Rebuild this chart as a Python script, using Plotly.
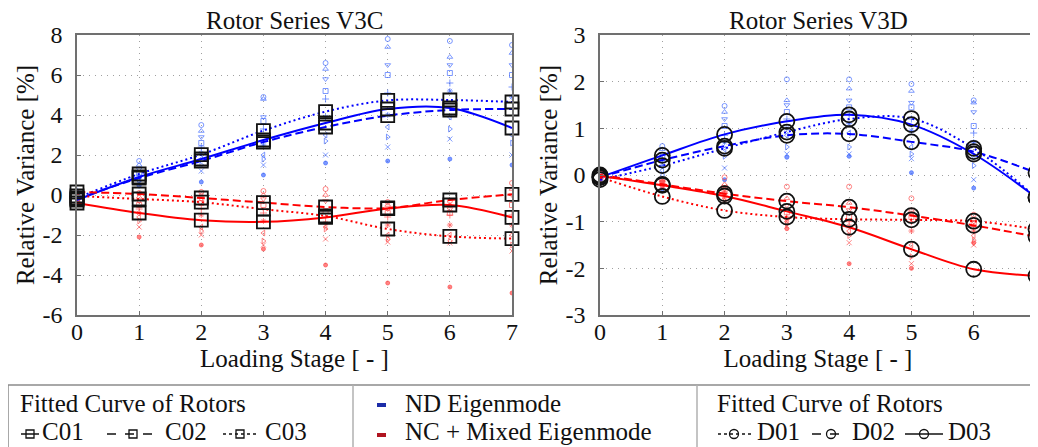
import plotly.graph_objects as go

# the page body adds an 8px margin; screen coordinates below are converted
OFF = 8
W, H = 1038 - OFF, 447 - OFF
ML, MR, MT, MB = 77 - OFF, 2, 35 - OFF, 447 - 315
FONT = "'Liberation Serif', 'Times New Roman', 'DejaVu Serif', serif"

STAGES = [0, 1, 2, 3, 4, 5, 6, 7]
X_TICKS = ["0", "1", "2", "3", "4", "5", "6", "7"]
Y_TICKS_C = [-6, -4, -2, 0, 2, 4, 6, 8]
Y_TEXT_C = ["-6", "-4", "-2", "0", "2", "4", "6", "8"]
Y_TICKS_D = [-3, -2, -1, 0, 1, 2, 3]
Y_TEXT_D = ["-3", "-2", "-1", "0", "1", "2", "3"]

# ---- fitted curves, rotor series V3C ----
C01_ND = [-0.25, 0.90, 1.80, 2.75, 3.60, 4.30, 4.35, 3.35]
C02_ND = [-0.20, 0.85, 1.70, 2.65, 3.40, 3.97, 4.25, 4.30]
C03_ND = [-0.15, 1.05, 2.02, 3.22, 4.17, 4.73, 4.75, 4.65]
C01_NC = [-0.40, -0.90, -1.26, -1.34, -1.12, -0.68, -0.50, -1.12]
C02_NC = [0.15, 0.05, -0.15, -0.38, -0.60, -0.65, -0.25, 0.03]
C03_NC = [-0.05, -0.20, -0.36, -0.71, -1.05, -1.70, -2.07, -2.18]

# ---- fitted curves, rotor series V3D ----
D01_ND = [-0.10, 0.20, 0.57, 0.92, 1.20, 1.21, 0.57, -0.48]
D02_ND = [-0.05, 0.32, 0.62, 0.85, 0.88, 0.71, 0.50, 0.05]
D03_ND = [-0.05, 0.42, 0.87, 1.15, 1.29, 1.08, 0.45, -0.48]
D01_NC = [-0.05, -0.46, -0.76, -0.90, -0.95, -0.96, -0.99, -1.16]
D02_NC = [0.00, -0.20, -0.40, -0.56, -0.69, -0.87, -1.08, -1.32]
D03_NC = [-0.02, -0.22, -0.45, -0.78, -1.12, -1.59, -2.02, -2.16]

# ---- single-mode measurements (one list per loading stage) ----
C_ND_PTS = [
    [0.10, -0.10, 0.00, -0.20, 0.20, -0.30, 0.05, -0.15, 0.15, -0.05],
    [1.70, 1.50, 1.30, 1.10, 1.00, 0.90, 0.80, 0.70, 0.60, 0.45],
    [3.50, 3.20, 2.90, 2.60, 2.40, 2.10, 1.80, 1.50, 1.20, 0.65],
    [4.90, 4.80, 3.90, 3.70, 3.30, 2.50, 2.00, 1.80, 1.50, 1.00],
    [6.60, 6.30, 5.80, 5.20, 4.80, 3.90, 3.00, 2.70, 2.00, 1.60],
    [7.80, 7.40, 6.50, 6.00, 5.10, 4.00, 3.40, 2.90, 2.40, 1.70],
    [7.70, 6.90, 6.50, 6.10, 5.60, 5.20, 3.90, 3.30, 2.80, 1.80],
    [7.50, 7.10, 6.50, 6.00, 5.40, 4.90, 3.00, 2.60, 2.00, 1.50],
]
C_NC_PTS = [
    [0.10, 0.00, -0.10, -0.20, -0.30, -0.40, 0.05, -0.15, -0.25, -0.05],
    [0.10, -0.10, -0.30, -0.50, -0.70, -0.90, -1.10, -1.30, -1.60, -2.10],
    [0.15, 0.00, -0.20, -0.40, -0.70, -1.00, -1.60, -1.80, -2.00, -2.50],
    [0.20, 0.00, -0.20, -0.50, -0.90, -1.30, -1.90, -2.30, -2.50, -2.70],
    [0.30, 0.00, -0.30, -0.80, -1.10, -1.40, -1.60, -1.70, -2.20, -3.50],
    [-0.35, -0.50, -0.70, -0.90, -1.10, -1.50, -2.00, -2.20, -2.35, -4.40],
    [-0.30, -0.50, -0.70, -0.90, -1.00, -1.50, -2.00, -2.30, -2.40, -4.60],
    [0.60, 0.30, 0.00, -0.50, -1.00, -1.50, -2.00, -2.50, -2.80, -4.90],
]
D_ND_PTS = [
    [0.00, -0.05, -0.10, 0.02, -0.08, -0.12, 0.05, -0.03, -0.06, -0.10],
    [0.62, 0.55, 0.45, 0.38, 0.30, 0.20, 0.10, 0.00, -0.15, -0.30],
    [1.48, 1.35, 1.20, 1.05, 0.85, 0.70, 0.55, 0.40, 0.15, -0.10],
    [2.05, 1.60, 1.50, 1.35, 1.20, 1.00, 0.85, 0.60, 0.45, 0.38],
    [2.05, 1.85, 1.60, 1.45, 1.30, 1.10, 0.90, 0.60, 0.45, 0.40],
    [1.95, 1.80, 1.55, 1.45, 1.20, 0.95, 0.60, 0.45, 0.35, 0.05],
    [1.60, 1.55, 1.35, 1.05, 0.90, 0.70, 0.40, 0.20, -0.10, -0.28],
    [1.05, 0.80, 0.65, 0.40, 0.20, -0.10, -0.30, -0.45, -0.60, -0.75],
]
D_NC_PTS = [
    [0.00, -0.02, -0.05, 0.02, -0.08, -0.10, 0.04, -0.04, -0.06, -0.03],
    [-0.10, -0.12, -0.15, -0.17, -0.20, -0.22, -0.24, -0.25, -0.18, -0.14],
    [-0.05, -0.20, -0.30, -0.35, -0.40, -0.45, -0.50, -0.55, -0.25, -0.38],
    [-0.25, -0.50, -0.65, -0.80, -0.90, -0.95, -1.00, -1.05, -1.10, -1.15],
    [-0.25, -0.60, -0.75, -0.90, -1.00, -1.10, -1.20, -1.30, -1.45, -1.90],
    [-0.50, -0.75, -0.85, -0.90, -1.00, -1.20, -1.50, -1.75, -1.90, -2.00],
    [-0.85, -0.95, -1.00, -1.05, -1.10, -1.20, -1.30, -1.40, -1.50, -1.45],
    [-0.85, -1.00, -1.10, -1.20, -1.30, -1.50, -1.80, -2.20, -2.40, -2.85],
]

SYMBOLS = ["circle-open", "triangle-up-open", "triangle-down-open", "square-open",
           "cross-thin-open", "asterisk-open", "triangle-left-open",
           "triangle-right-open", "x-thin-open", "circle"]

BLUE, RED = "#0000ff", "#ff0000"
BLUE_PT, RED_PT = "rgba(70,110,255,0.7)", "rgba(255,80,80,0.7)"

fig = go.Figure()


def add_points(pts, color, xa, ya):
    for j, sym in enumerate(SYMBOLS):
        fig.add_trace(go.Scatter(
            x=STAGES, y=[stage[j] for stage in pts], mode="markers",
            marker=dict(symbol=sym, size=5 if j < 9 else 4, color=color,
                        line=dict(color=color, width=1)),
            xaxis=xa, yaxis=ya, showlegend=False, hoverinfo="skip"))


def add_fit(vals, color, dash, xa, ya):
    fig.add_trace(go.Scatter(
        x=STAGES, y=vals, mode="lines",
        line=dict(color=color, width=2, dash=dash, shape="spline", smoothing=1.0),
        xaxis=xa, yaxis=ya, showlegend=False, hoverinfo="skip"))


def add_marks(vals, sym, size, xa, ya):
    fig.add_trace(go.Scatter(
        x=STAGES, y=vals, mode="markers", cliponaxis=False,
        marker=dict(symbol=sym, size=size, color="rgba(255,255,255,0)",
                    line=dict(color="#111111", width=1.8)),
        xaxis=xa, yaxis=ya, showlegend=False, hoverinfo="skip"))


add_points(C_ND_PTS, BLUE_PT, "x", "y")
add_points(C_NC_PTS, RED_PT, "x", "y")
add_points(D_ND_PTS, BLUE_PT, "x2", "y2")
add_points(D_NC_PTS, RED_PT, "x2", "y2")

DASH, DOT = "8px,4px", "2px,3px"
for vals, col, dash in [(C01_ND, BLUE, "solid"), (C02_ND, BLUE, DASH), (C03_ND, BLUE, DOT),
                        (C01_NC, RED, "solid"), (C02_NC, RED, DASH), (C03_NC, RED, DOT)]:
    add_fit(vals, col, dash, "x", "y")
for vals, col, dash in [(D01_ND, BLUE, DOT), (D02_ND, BLUE, DASH), (D03_ND, BLUE, "solid"),
                        (D01_NC, RED, DOT), (D02_NC, RED, DASH), (D03_NC, RED, "solid")]:
    add_fit(vals, col, dash, "x2", "y2")
for vals in [C01_ND, C02_ND, C03_ND, C01_NC, C02_NC, C03_NC]:
    add_marks(vals, "square", 13, "x", "y")
for vals in [D01_ND, D02_ND, D03_ND, D01_NC, D02_NC, D03_NC]:
    add_marks(vals, "circle", 15, "x2", "y2")

PW = W - ML - MR
PH = H - MT - MB


def px(xs):
    """screen x (pixels) -> paper x"""
    return (xs - OFF - ML) / PW


def py(ys):
    """screen y (pixels) -> paper y"""
    return (H - MB - (ys - OFF)) / PH


axis_common = dict(
    showgrid=True, gridcolor="#a0a0a0", griddash="1px,5px", gridwidth=1,
    zeroline=False, showline=True, mirror=True, linecolor="#707070", linewidth=1.5,
    ticks="inside", ticklen=4, tickcolor="#707070", ticklabeloverflow="allow",
    tickfont=dict(family=FONT, size=24, color="#111111"),
)
TITLE_FONT = dict(family=FONT, size=25, color="#111111")

fig.update_layout(
    width=W, height=H, margin=dict(l=ML, r=MR, t=MT, b=MB, autoexpand=False),
    paper_bgcolor="white", plot_bgcolor="white", showlegend=False,
    font=dict(family=FONT, color="#111111"),
    xaxis=dict(domain=[0, px(512)], range=[0, 7], tickvals=STAGES, ticktext=X_TICKS,
               ticklabelstandoff=-6,
               title=dict(text="Loading Stage [ - ]", font=TITLE_FONT, standoff=2),
               **axis_common),
    yaxis=dict(domain=[0, 1], range=[-6, 8], tickvals=Y_TICKS_C, ticktext=Y_TEXT_C,
               ticklabelstandoff=8,
               title=dict(text="Relative Variance [%]", font=TITLE_FONT, standoff=1),
               **axis_common),
    xaxis2=dict(domain=[px(600), 1], range=[0, 7], tickvals=STAGES, ticktext=X_TICKS,
                ticklabelstandoff=-6,
                title=dict(text="Loading Stage [ - ]", font=TITLE_FONT, standoff=2),
                anchor="y2", **axis_common),
    yaxis2=dict(domain=[0, 1], range=[-3, 3], tickvals=Y_TICKS_D, ticktext=Y_TEXT_D,
                ticklabelstandoff=8,
                title=dict(text="Relative Variance [%]", font=TITLE_FONT, standoff=1),
                anchor="x2", **axis_common),
)

ann = []
ann.append(dict(text="Rotor Series V3C", x=px((77 + 512) / 2), y=py(21), xref="paper", yref="paper",
                showarrow=False, font=TITLE_FONT, xanchor="center", yanchor="middle"))
ann.append(dict(text="Rotor Series V3D", x=px((600 + 1036) / 2), y=py(21), xref="paper", yref="paper",
                showarrow=False, font=TITLE_FONT, xanchor="center", yanchor="middle"))

LEG_FONT = dict(family=FONT, size=25, color="#111111")
R1, R2 = 403, 431


def text_at(t, x, y):
    ann.append(dict(text=t, x=px(x), y=py(y), xref="paper", yref="paper", showarrow=False,
                    font=LEG_FONT, xanchor="left", yanchor="middle"))


text_at("Fitted Curve of Rotors", 18, R1)
text_at("C01", 40, R2)
text_at("C02", 163, R2)
text_at("C03", 263, R2)
text_at("ND Eigenmode", 403, R1)
text_at("NC + Mixed Eigenmode", 403, R2)
text_at("Fitted Curve of Rotors", 715, R1)
text_at("D01", 755, R2)
text_at("D02", 850, R2)
text_at("D03", 946, R2)

shapes = []
GREY = "#8c8c8c"
# legend frame
shapes.append(dict(type="rect", xref="paper", yref="paper", x0=px(8), x1=px(1045),
                   y0=py(455), y1=py(385), line=dict(color=GREY, width=1.5)))
for xv in (353, 697):
    shapes.append(dict(type="line", xref="paper", yref="paper", x0=px(xv), x1=px(xv),
                       y0=py(455), y1=py(385), line=dict(color="#b0b0b0", width=1.5)))


def sample(x0, x1, dash, kind, cx):
    yy = R2 + 3
    shapes.append(dict(type="line", xref="paper", yref="paper", x0=px(x0), x1=px(x1),
                       y0=py(yy), y1=py(yy), line=dict(color="#111111", width=1.5, dash=dash)))
    s = 4 if kind == "rect" else 4.5
    shapes.append(dict(type="rect" if kind == "rect" else "circle", xref="paper", yref="paper",
                       x0=px(cx - s), x1=px(cx + s), y0=py(yy + s), y1=py(yy - s),
                       fillcolor="rgba(0,0,0,0)", line=dict(color="#111111", width=1.3)))


sample(21, 39, "solid", "rect", 30)
sample(107, 158, "dash", "rect", 133)
sample(223, 259, "dot", "rect", 240)
sample(718, 752, "dot", "circle", 734)
sample(812, 848, "dash", "circle", 831)
sample(905, 943, "solid", "circle", 924)
# colour keys
shapes.append(dict(type="rect", xref="paper", yref="paper", x0=px(377), x1=px(386),
                   y0=py(R1 + 4), y1=py(R1), fillcolor="#1c2ca8", line=dict(width=0)))
shapes.append(dict(type="rect", xref="paper", yref="paper", x0=px(377), x1=px(386),
                   y0=py(R2 + 6), y1=py(R2 + 2), fillcolor="#b01420", line=dict(width=0)))

fig.update_layout(annotations=ann, shapes=shapes)
fig.write_html("out.html")
